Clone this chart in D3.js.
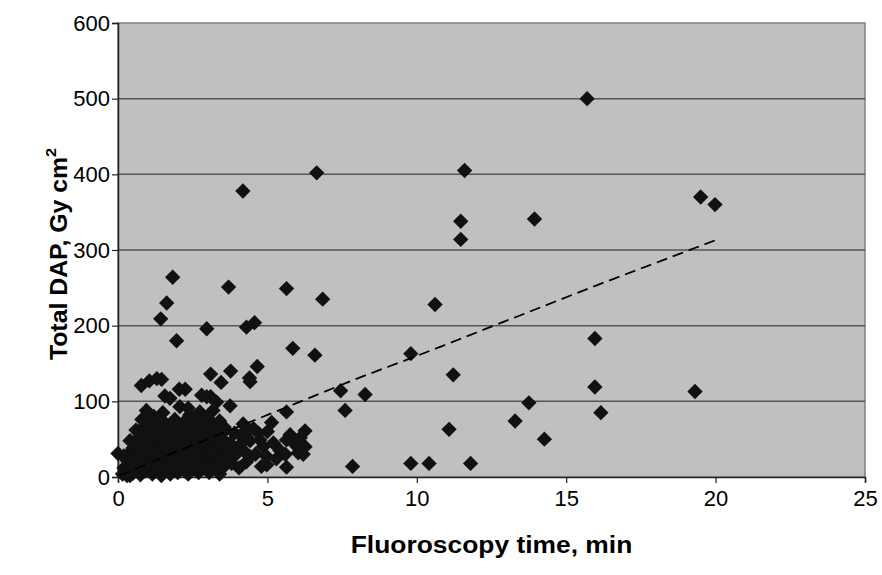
<!DOCTYPE html>
<html>
<head>
<meta charset="utf-8">
<script src="https://cdn.jsdelivr.net/npm/d3@7"></script>
<style>
  html, body { margin: 0; padding: 0; background: #ffffff; }
  svg { display: block; font-family: "Liberation Sans", Arial, sans-serif; }
</style>
</head>
<body>
<svg id="chart" width="882" height="575"></svg>
<script>
// Fluoroscopy time (min) and total dose-area product (Gy cm²) per procedure
const fluoroTime = [
  15.7, 6.65, 11.6, 4.18, 19.5, 19.98, 13.94, 11.47, 11.47, 1.83,
  3.7, 5.64, 6.85, 1.63, 10.61, 1.43, 4.57, 4.3, 2.97, 1.96,
  15.96, 5.85, 9.8, 6.59, 4.66, 3.77, 3.1, 11.22, 4.4, 1.3,
  1.46, 1.05, 3.45, 4.42, 0.78, 15.96, 2.05, 2.25, 7.45, 19.31,
  8.27, 1.57, 1.74, 2.8, 2.97, 3.1, 13.75, 3.3, 3.75, 2.07,
  2.35, 3.18, 7.6, 5.64, 2.74, 16.16, 13.29, 5.14, 4.19, 11.08,
  6.26, 4.53, 5.76, 14.27, 5.64, 4.75, 4.42, 4.08, 6.26, 4.86,
  3.69, 5.42, 6.03, 6.2, 0.0, 4.98, 4.42, 9.8, 10.41, 11.8,
  4.98, 5.64, 7.85,
  0.15, 0.2, 0.3, 0.25, 0.35, 0.45, 0.5, 0.5, 0.55, 0.6,
  0.65, 0.7, 0.7, 0.75, 0.8, 0.85, 0.85, 0.9, 0.95, 1.0,
  1.0, 1.05, 1.1, 1.1, 1.15, 1.2, 1.2, 1.25, 1.3, 1.3,
  1.35, 1.4, 1.45, 1.45, 1.5, 1.5, 1.55, 1.6, 1.6, 1.65,
  1.7, 1.7, 1.75, 1.8, 1.8, 1.85, 1.9, 1.9, 1.95, 2.0,
  2.0, 2.05, 2.1, 2.1, 2.15, 2.2, 2.2, 2.25, 2.3, 2.3,
  2.35, 2.4, 2.45, 2.5, 2.5, 2.55, 2.6, 2.6, 2.65, 2.7,
  2.7, 2.75, 2.8, 2.8, 2.85, 2.9, 2.95, 3.0, 3.0, 3.05,
  3.1, 3.1, 3.15, 3.2, 3.25, 3.3, 3.3, 3.35, 3.4, 3.45,
  3.5, 3.55, 3.6, 3.65, 3.75, 3.8, 3.9, 3.95, 4.05, 4.1,
  4.2, 4.3, 4.35, 4.6, 4.7, 4.8, 5.2, 5.3, 5.6, 5.9,
  6.1, 5.0, 0.6, 0.8, 0.4, 1.5, 1.2, 0.95, 2.4, 2.9,
  0.4, 0.55, 0.65, 0.9, 0.9, 1.0, 1.15, 1.25, 1.35, 1.4,
  1.55, 1.65, 1.75, 1.85, 1.95, 2.05, 2.15, 2.25, 2.35, 2.45,
  2.55, 2.65, 2.75, 2.85, 2.95, 3.05, 3.15, 3.25, 3.35, 3.45,
  3.55, 0.2, 0.3, 0.75, 1.05, 1.9, 2.7, 3.4, 3.6
];
const totalDap = [
  500, 402, 405, 378, 370, 360, 341, 338, 314, 264,
  251, 249, 235, 230, 228, 209, 204, 198, 196, 180,
  183, 170, 163, 161, 146, 140, 136, 135, 131, 130,
  129, 127, 125, 126, 121, 119, 116, 116, 114, 113,
  109, 107, 104, 108, 106, 106, 98, 99, 94, 93,
  91, 88, 88, 86, 86, 85, 74, 72, 70, 63,
  61, 64, 56, 50, 49, 49, 48, 42, 40, 40,
  38, 35, 32, 30, 31, 27, 27, 18, 18, 18,
  16, 13, 14,
  4, 12, 22, 8, 30, 15, 38, 5, 25, 48,
  12, 58, 32, 3, 20, 42, 66, 8, 52, 28,
  72, 15, 40, 62, 4, 22, 50, 76, 10, 34,
  64, 45, 2, 18, 28, 56, 72, 10, 38, 48,
  22, 66, 4, 32, 58, 14, 44, 76, 25, 6,
  52, 64, 36, 16, 44, 28, 72, 8, 56, 40,
  20, 66, 32, 12, 48, 60, 24, 74, 40, 6,
  54, 18, 30, 66, 44, 12, 58, 26, 78, 38,
  16, 50, 68, 28, 42, 10, 58, 22, 74, 36,
  50, 14, 62, 28, 45, 18, 58, 30, 12, 55,
  35, 20, 62, 30, 58, 14, 45, 24, 30, 44,
  52, 60, 62, 76, 48, 85, 80, 88, 82, 78,
  2, 18, 35, 30, 60, 45, 30, 58, 22, 70,
  40, 60, 30, 68, 10, 28, 58, 48, 4, 75,
  36, 14, 62, 28, 42, 6, 32, 60, 46, 20,
  66, 28, 2, 48, 56, 20, 28, 4, 40
];

// Trend curve through the cloud, read at a few fluoroscopy times
const trendTime = [0.05, 1, 2, 3, 4, 5, 6, 8, 10, 12, 14, 16, 18, 20];
const trendDap  = [2, 17.5, 34, 50, 66, 82, 98, 130, 160, 191, 222, 253, 283, 313];

const xTicks = [0, 5, 10, 15, 20, 25];
const yTicks = [0, 100, 200, 300, 400, 500, 600];

const svg = d3.select("#chart");
const plot = { left: 118, right: 865, top: 23, bottom: 477 };

const x = d3.scaleLinear().domain([0, 25]).range([plot.left, plot.right]);
const y = d3.scaleLinear().domain([0, 600]).range([plot.bottom, plot.top]);

// plot background
svg.append("rect")
  .attr("x", plot.left).attr("y", plot.top)
  .attr("width", plot.right - plot.left).attr("height", plot.bottom - plot.top)
  .attr("fill", "#c0c0c0")
  .attr("stroke", "#808080").attr("stroke-width", 1.5);

// horizontal gridlines
svg.append("g")
  .selectAll("line")
  .data(yTicks.filter(d => d > 0 && d < 600))
  .join("line")
  .attr("x1", plot.left).attr("x2", plot.right)
  .attr("y1", d => y(d)).attr("y2", d => y(d))
  .attr("stroke", "#555555").attr("stroke-width", 1.5);

// axes
const xAxis = d3.axisBottom(x).tickValues(xTicks).tickSize(6).tickPadding(7).tickFormat(d3.format("d"));
const yAxis = d3.axisLeft(y).tickValues(yTicks).tickSize(6).tickPadding(2).tickFormat(d3.format("d"));

const gx = svg.append("g").attr("transform", `translate(0,${plot.bottom})`).call(xAxis);
const gy = svg.append("g").attr("transform", `translate(${plot.left},0)`).call(yAxis);

[gx, gy].forEach(g => {
  g.select(".domain").attr("stroke", "#222").attr("stroke-width", 1.5);
  g.selectAll(".tick line").attr("stroke", "#222").attr("stroke-width", 1.2);
  g.selectAll(".tick text")
    .attr("fill", "#000")
    .style("font-family", "'Liberation Sans', Arial, sans-serif")
    .style("font-size", "22px");
});

// data points as diamonds
const diamond = d3.symbol().type(d3.symbolSquare).size(118);
svg.append("g")
  .selectAll("path")
  .data(fluoroTime.map((t, i) => [t, totalDap[i]]))
  .join("path")
  .attr("d", diamond)
  .attr("transform", d => `translate(${x(d[0])},${y(d[1])}) rotate(45)`)
  .attr("fill", "#111111");

// dashed trend curve
svg.append("path")
  .datum(trendTime.map((t, i) => [t, trendDap[i]]))
  .attr("d", d3.line().x(d => x(d[0])).y(d => y(d[1])).curve(d3.curveMonotoneX))
  .attr("fill", "none")
  .attr("stroke", "#000")
  .attr("stroke-width", 1.8)
  .attr("stroke-dasharray", "11,6");

// axis titles (slightly widened lettering)
svg.append("text")
  .attr("transform", `translate(${(plot.left + plot.right) / 2},553) scale(1.1,1)`)
  .attr("text-anchor", "middle")
  .style("font-size", "24px")
  .style("font-weight", "bold")
  .text("Fluoroscopy time, min");

const yt = svg.append("text")
  .attr("transform", `translate(67,254) rotate(-90) scale(1.08,1)`)
  .attr("text-anchor", "middle")
  .style("font-size", "23px")
  .style("font-weight", "bold");
yt.append("tspan").text("Total DAP, Gy cm");
yt.append("tspan").attr("dy", -11).style("font-size", "15px").text("2");
</script>
</body>
</html>
